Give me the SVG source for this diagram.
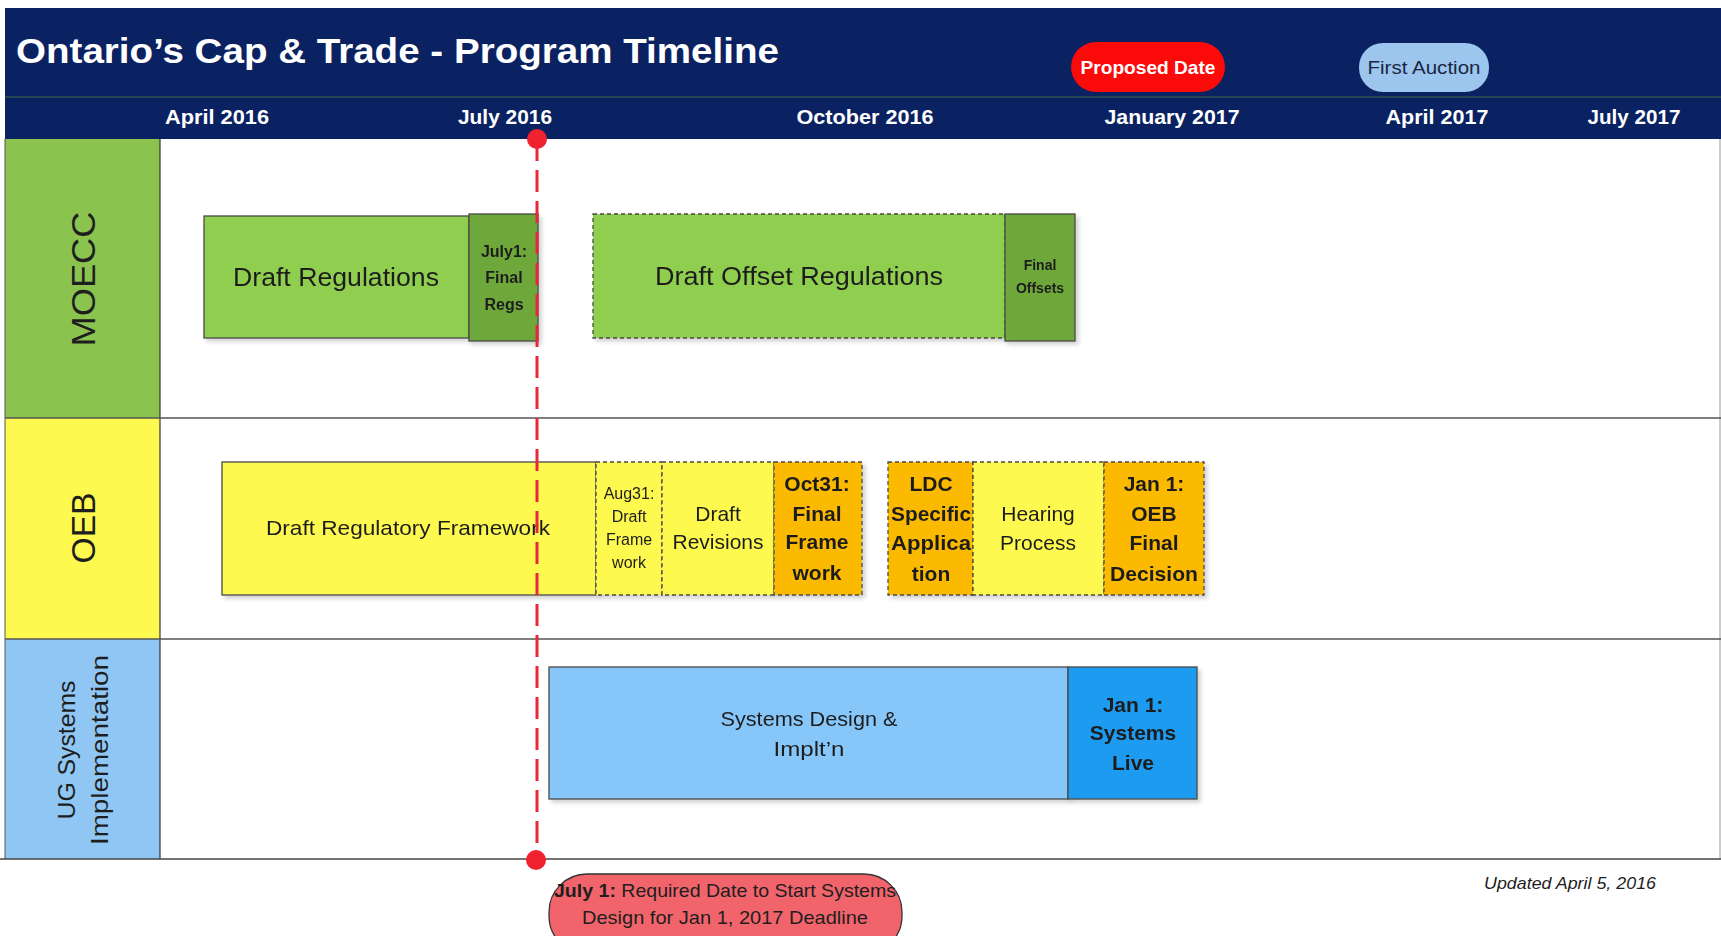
<svg xmlns="http://www.w3.org/2000/svg" width="1721" height="936" viewBox="0 0 1721 936">
<defs>
<style>
text{font-family:"Liberation Sans","Open Sans",Arial,sans-serif;fill:#1e1e1e;text-anchor:middle}
.start{text-anchor:start}
.hdr{fill:#ffffff;font-weight:bold}
.mon{fill:#ffffff;font-weight:bold;font-size:20px}
.box{stroke:#4a4a4a;stroke-width:1.3}
.dash{stroke:#4a4a4a;stroke-width:1.3;stroke-dasharray:4 3}
.b{font-weight:bold}
.lane{font-size:34px}
.t22{font-size:21px}
.t17{font-size:16px}
.t26{font-size:25px}
</style>
<filter id="sh" x="-5%" y="-5%" width="115%" height="120%">
<feDropShadow dx="3" dy="3" stdDeviation="2" flood-color="#000" flood-opacity="0.18"/>
</filter>
</defs>
<rect width="1721" height="936" fill="#ffffff"/>

<g id="header">
<rect x="5" y="8" width="1716" height="131" fill="#0b2262"/>
<line x1="5" y1="97" x2="1721" y2="97" stroke="#3f6a45" stroke-width="1.2"/>
<text class="hdr start" x="16" y="63" font-size="35" textLength="763" lengthAdjust="spacingAndGlyphs">Ontario’s Cap &amp; Trade - Program Timeline</text>
<text class="mon" x="217" y="124" textLength="104" lengthAdjust="spacingAndGlyphs">April 2016</text>
<text class="mon" x="505" y="124" textLength="94" lengthAdjust="spacingAndGlyphs">July 2016</text>
<text class="mon" x="865" y="124" textLength="137" lengthAdjust="spacingAndGlyphs">October 2016</text>
<text class="mon" x="1172" y="124" textLength="135" lengthAdjust="spacingAndGlyphs">January 2017</text>
<text class="mon" x="1437" y="124" textLength="103" lengthAdjust="spacingAndGlyphs">April 2017</text>
<text class="mon" x="1634" y="124" textLength="93" lengthAdjust="spacingAndGlyphs">July 2017</text>
</g>

<g id="legend-proposed">
<rect x="1071" y="42" width="154" height="50" rx="25" fill="#fb0a0a"/>
<text class="hdr" x="1148" y="74" font-size="19" textLength="135" lengthAdjust="spacingAndGlyphs">Proposed Date</text>
</g>
<g id="legend-auction">
<rect x="1359" y="43" width="130" height="49" rx="24" fill="#9dc6ef"/>
<text x="1424" y="74" font-size="19" style="fill:#1a2540" textLength="113" lengthAdjust="spacingAndGlyphs">First Auction</text>
</g>

<g id="lanes">
<rect x="5" y="139" width="155" height="279" fill="#8bc34f"/>
<rect x="5" y="418" width="155" height="221" fill="#fdf94f"/>
<rect x="5" y="639" width="155" height="220" fill="#8fc6f3"/>
<line x1="160" y1="139" x2="160" y2="859" stroke="#333" stroke-width="1.2"/>
<line x1="5" y1="139" x2="5" y2="859" stroke="#555" stroke-width="1"/>
<line x1="1720" y1="139" x2="1720" y2="859" stroke="#999" stroke-width="1"/>
<line x1="5" y1="418" x2="1721" y2="418" stroke="#555" stroke-width="1.3"/>
<line x1="5" y1="639" x2="1721" y2="639" stroke="#555" stroke-width="1.3"/>
<line x1="0" y1="859" x2="1721" y2="859" stroke="#444" stroke-width="1.6"/>
<text class="lane" transform="translate(95,279) rotate(-90)" textLength="135" lengthAdjust="spacingAndGlyphs">MOECC</text>
<text class="lane" transform="translate(95,528) rotate(-90)" textLength="71" lengthAdjust="spacingAndGlyphs">OEB</text>
<text font-size="24" transform="translate(75,750) rotate(-90)" textLength="139" lengthAdjust="spacingAndGlyphs">UG Systems</text>
<text font-size="24" transform="translate(108,750) rotate(-90)" textLength="190" lengthAdjust="spacingAndGlyphs">Implementation</text>
</g>

<g id="draft-regulations" filter="url(#sh)">
<rect class="box" x="204" y="216" width="265" height="122" fill="#8fce4f"/>
<text class="t26" x="336" y="286" textLength="206" lengthAdjust="spacingAndGlyphs">Draft Regulations</text>
</g>
<g id="final-regs" filter="url(#sh)">
<rect class="box" x="469" y="214" width="69" height="127" fill="#6ea83a"/>
<text class="t17 b" x="504" y="257">July1:</text>
<text class="t17 b" x="504" y="283">Final</text>
<text class="t17 b" x="504" y="310">Regs</text>
</g>
<g id="draft-offset-regulations" filter="url(#sh)">
<rect class="dash" x="593" y="214" width="412" height="124" fill="#8fce4f"/>
<text class="t26" x="799" y="285" textLength="288" lengthAdjust="spacingAndGlyphs">Draft Offset Regulations</text>
</g>
<g id="final-offsets" filter="url(#sh)">
<rect class="box" x="1005" y="214" width="70" height="127" fill="#6ea83a"/>
<text class="b" x="1040" y="270" font-size="14">Final</text>
<text class="b" x="1040" y="293" font-size="14">Offsets</text>
</g>

<g id="draft-regulatory-framework" filter="url(#sh)">
<rect class="box" x="222" y="462" width="374" height="133" fill="#fdf94f"/>
<text class="t22" x="408" y="535" textLength="284" lengthAdjust="spacingAndGlyphs">Draft Regulatory Framework</text>
</g>
<g id="aug31" filter="url(#sh)">
<rect class="dash" x="596" y="462" width="66" height="133" fill="#fdf94f"/>
<text class="t17" x="629" y="499">Aug31:</text>
<text class="t17" x="629" y="522">Draft</text>
<text class="t17" x="629" y="545">Frame</text>
<text class="t17" x="629" y="568">work</text>
</g>
<g id="draft-revisions" filter="url(#sh)">
<rect class="dash" x="662" y="462" width="112" height="133" fill="#fdf94f"/>
<text class="t22" x="718" y="521">Draft</text>
<text class="t22" x="718" y="549">Revisions</text>
</g>
<g id="oct31" filter="url(#sh)">
<rect class="dash" x="774" y="462" width="88" height="133" fill="#fbb904"/>
<text class="t22 b" x="817" y="491">Oct31:</text>
<text class="t22 b" x="817" y="521">Final</text>
<text class="t22 b" x="817" y="549">Frame</text>
<text class="t22 b" x="817" y="580">work</text>
</g>
<g id="ldc-specific" filter="url(#sh)">
<rect class="dash" x="888" y="462" width="85" height="133" fill="#fbb904"/>
<text class="t22 b" x="931" y="491">LDC</text>
<text class="t22 b" x="931" y="521" textLength="80" lengthAdjust="spacingAndGlyphs">Specific</text>
<text class="t22 b" x="931" y="550" textLength="80" lengthAdjust="spacingAndGlyphs">Applica</text>
<text class="t22 b" x="931" y="581">tion</text>
</g>
<g id="hearing-process" filter="url(#sh)">
<rect class="dash" x="973" y="462" width="131" height="133" fill="#fdf94f"/>
<text class="t22" x="1038" y="521">Hearing</text>
<text class="t22" x="1038" y="550">Process</text>
</g>
<g id="oeb-final-decision" filter="url(#sh)">
<rect class="dash" x="1104" y="462" width="100" height="133" fill="#fbb904"/>
<text class="t22 b" x="1154" y="491">Jan 1:</text>
<text class="t22 b" x="1154" y="521">OEB</text>
<text class="t22 b" x="1154" y="550">Final</text>
<text class="t22 b" x="1154" y="581" textLength="88" lengthAdjust="spacingAndGlyphs">Decision</text>
</g>

<g id="systems-design" filter="url(#sh)">
<rect class="box" x="549" y="667" width="519" height="132" fill="#86c6f8"/>
<text class="t22" x="809" y="726" textLength="177" lengthAdjust="spacingAndGlyphs">Systems Design &amp;</text>
<text class="t22" x="809" y="756" textLength="71" lengthAdjust="spacingAndGlyphs">Implt’n</text>
</g>
<g id="systems-live" filter="url(#sh)">
<rect class="box" x="1068" y="667" width="129" height="132" fill="#1f9bf0"/>
<text class="t22 b" x="1133" y="712">Jan 1:</text>
<text class="t22 b" x="1133" y="740">Systems</text>
<text class="t22 b" x="1133" y="770">Live</text>
</g>

<g id="connectors">
<line x1="537" y1="139" x2="537" y2="859" stroke="#e8283a" stroke-width="3" stroke-dasharray="22 9"/>
<circle cx="537" cy="139" r="10" fill="#f0222f"/>
<circle cx="536" cy="860" r="10" fill="#f0222f"/>
</g>

<g id="callout">
<rect x="549" y="874" width="353" height="80" rx="38" fill="#f2646b" stroke="#333" stroke-width="1.3"/>
<text x="725" y="897" font-size="19" textLength="342" lengthAdjust="spacingAndGlyphs"><tspan font-weight="bold">July 1:</tspan> Required Date to Start Systems</text>
<text x="725" y="924" font-size="19" textLength="286" lengthAdjust="spacingAndGlyphs">Design for  Jan 1, 2017 Deadline</text>
</g>
<g id="updated">
<text x="1570" y="889" font-size="17" font-style="italic" textLength="172" lengthAdjust="spacingAndGlyphs">Updated April 5, 2016</text>
</g>
</svg>
